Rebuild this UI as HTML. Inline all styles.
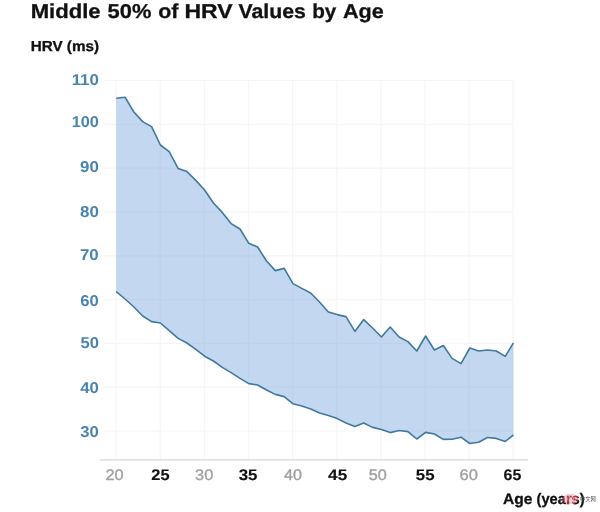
<!DOCTYPE html>
<html><head><meta charset="utf-8"><title>Middle 50% of HRV Values by Age</title>
<style>
html,body{margin:0;padding:0;background:#fff;}
body{width:600px;height:512px;position:relative;overflow:hidden;font-family:"Liberation Sans",sans-serif;color:#111;}
svg{position:absolute;left:0;top:0;}
.t{position:absolute;left:0;top:0;line-height:1;white-space:nowrap;transform-origin:0 0;display:block;text-rendering:geometricPrecision;}
.wm{position:absolute;left:562.5px;top:494.3px;height:10px;white-space:nowrap;}
.wm .p{position:absolute;left:0;top:0;width:15.8px;height:9.7px;border-radius:5px;background:rgba(235,120,135,.36);}
.wm .q{position:absolute;left:0;top:0;width:15.8px;height:9.7px;border-radius:5px;background:rgb(125,0,12);mix-blend-mode:screen;}
.wm .p i{position:absolute;left:0;top:0;width:15.8px;text-align:center;font-style:normal;color:rgba(255,255,255,.35);font-size:7px;line-height:9px;font-weight:bold;}
.wm .c{position:absolute;left:17.5px;top:2px;font-size:5.3px;line-height:6px;color:#555;font-family:"Liberation Sans","Noto Sans CJK SC",sans-serif;}
</style></head><body>
<svg width="600" height="512" viewBox="0 0 600 512">
<g stroke="#f5f5f5" stroke-width="1.2" fill="none"><line x1="104" x2="513.5" y1="80.5" y2="80.5"/><line x1="104" x2="513.5" y1="124.3" y2="124.3"/><line x1="104" x2="513.5" y1="168.1" y2="168.1"/><line x1="104" x2="513.5" y1="211.9" y2="211.9"/><line x1="104" x2="513.5" y1="255.8" y2="255.8"/><line x1="104" x2="513.5" y1="299.6" y2="299.6"/><line x1="104" x2="513.5" y1="343.4" y2="343.4"/><line x1="104" x2="513.5" y1="387.2" y2="387.2"/><line x1="104" x2="513.5" y1="431.0" y2="431.0"/><line x1="116.2" x2="116.2" y1="80" y2="459"/><line x1="160.3" x2="160.3" y1="80" y2="459"/><line x1="204.4" x2="204.4" y1="80" y2="459"/><line x1="248.5" x2="248.5" y1="80" y2="459"/><line x1="292.6" x2="292.6" y1="80" y2="459"/><line x1="336.8" x2="336.8" y1="80" y2="459"/><line x1="380.9" x2="380.9" y1="80" y2="459"/><line x1="425.0" x2="425.0" y1="80" y2="459"/><line x1="469.1" x2="469.1" y1="80" y2="459"/><line x1="513.2" x2="513.2" y1="80" y2="459"/></g>
<line x1="100" x2="528" y1="459.9" y2="459.9" stroke="#e1e1e1" stroke-width="1.6"/>
<polygon points="116.2,98.3 125.0,97.2 133.9,112.0 142.7,121.6 151.6,126.6 160.4,145.0 169.2,151.6 178.1,168.4 186.9,171.6 195.8,180.4 204.6,190.0 213.4,203.0 222.3,212.4 231.1,223.6 240.0,229.0 248.8,243.3 257.6,247.0 266.5,261.0 275.3,270.6 284.2,268.4 293.0,283.6 301.8,288.4 310.7,293.0 319.5,302.0 328.4,312.0 337.2,314.6 346.0,316.6 354.9,331.4 363.7,319.6 372.6,328.0 381.4,337.0 390.2,327.0 399.1,337.0 407.9,341.6 416.8,351.0 425.6,336.0 434.4,350.0 443.3,345.5 452.1,358.4 461.0,363.6 469.8,348.0 478.6,351.0 487.5,350.0 496.3,351.0 505.2,356.4 513.4,343.0 513.4,435.0 505.2,441.4 496.3,438.4 487.5,437.5 478.6,442.2 469.8,443.5 461.0,437.2 452.1,439.2 443.3,439.4 434.4,434.0 425.6,432.4 416.8,439.0 407.9,431.6 399.1,430.5 390.2,432.6 381.4,429.5 372.6,427.4 363.7,423.0 354.9,426.6 346.0,423.0 337.2,418.6 328.4,415.4 319.5,413.0 310.7,409.0 301.8,406.0 293.0,403.8 284.2,396.6 275.3,394.4 266.5,390.0 257.6,385.0 248.8,383.6 240.0,378.4 231.1,372.6 222.3,367.4 213.4,361.0 204.6,356.2 195.8,349.4 186.9,343.0 178.1,338.4 169.2,330.6 160.4,323.0 151.6,321.6 142.7,316.0 133.9,307.0 125.0,299.0 116.2,291.6" fill="#82aae2" fill-opacity="0.47" stroke="none"/>
<polyline points="116.2,98.3 125.0,97.2 133.9,112.0 142.7,121.6 151.6,126.6 160.4,145.0 169.2,151.6 178.1,168.4 186.9,171.6 195.8,180.4 204.6,190.0 213.4,203.0 222.3,212.4 231.1,223.6 240.0,229.0 248.8,243.3 257.6,247.0 266.5,261.0 275.3,270.6 284.2,268.4 293.0,283.6 301.8,288.4 310.7,293.0 319.5,302.0 328.4,312.0 337.2,314.6 346.0,316.6 354.9,331.4 363.7,319.6 372.6,328.0 381.4,337.0 390.2,327.0 399.1,337.0 407.9,341.6 416.8,351.0 425.6,336.0 434.4,350.0 443.3,345.5 452.1,358.4 461.0,363.6 469.8,348.0 478.6,351.0 487.5,350.0 496.3,351.0 505.2,356.4 513.4,343.0" fill="none" stroke="#3f7a9c" stroke-width="1.6" stroke-linejoin="round"/>
<polyline points="116.2,291.6 125.0,299.0 133.9,307.0 142.7,316.0 151.6,321.6 160.4,323.0 169.2,330.6 178.1,338.4 186.9,343.0 195.8,349.4 204.6,356.2 213.4,361.0 222.3,367.4 231.1,372.6 240.0,378.4 248.8,383.6 257.6,385.0 266.5,390.0 275.3,394.4 284.2,396.6 293.0,403.8 301.8,406.0 310.7,409.0 319.5,413.0 328.4,415.4 337.2,418.6 346.0,423.0 354.9,426.6 363.7,423.0 372.6,427.4 381.4,429.5 390.2,432.6 399.1,430.5 407.9,431.6 416.8,439.0 425.6,432.4 434.4,434.0 443.3,439.4 452.1,439.2 461.0,437.2 469.8,443.5 478.6,442.2 487.5,437.5 496.3,438.4 505.2,441.4 513.4,435.0" fill="none" stroke="#3f7a9c" stroke-width="1.6" stroke-linejoin="round"/>
</svg>
<span class="t" style="font-size:20px;font-weight:bold;color:#111;transform:translate(30.63px,2px) scaleX(1.1052);-webkit-text-stroke:0.3px #111;">Middle</span>
<span class="t" style="font-size:20px;font-weight:bold;color:#111;transform:translate(107.61px,2px) scaleX(1.0937);-webkit-text-stroke:0.3px #111;">50%</span>
<span class="t" style="font-size:20px;font-weight:bold;color:#111;transform:translate(158.22px,2px) scaleX(1.0695);-webkit-text-stroke:0.3px #111;">of</span>
<span class="t" style="font-size:20px;font-weight:bold;color:#111;transform:translate(184.46px,2px) scaleX(1.1494);-webkit-text-stroke:0.3px #111;">HRV</span>
<span class="t" style="font-size:20px;font-weight:bold;color:#111;transform:translate(238.54px,2px) scaleX(1.0623);-webkit-text-stroke:0.3px #111;">Values</span>
<span class="t" style="font-size:20px;font-weight:bold;color:#111;transform:translate(312.23px,2px) scaleX(1.0339);-webkit-text-stroke:0.3px #111;">by</span>
<span class="t" style="font-size:20px;font-weight:bold;color:#111;transform:translate(342.97px,2px) scaleX(1.0803);-webkit-text-stroke:0.3px #111;">Age</span>
<span class="t" style="font-size:14.5px;font-weight:bold;color:#111;transform:translate(30.74px,40px) scaleX(1.0494);-webkit-text-stroke:0.3px #111;">HRV (ms)</span>
<span class="t" style="font-size:15.2px;font-weight:bold;color:#111;transform:translate(502.97px,492px) scaleX(1.0265);-webkit-text-stroke:0.3px #111;">Age</span>
<span class="t" style="font-size:15.2px;font-weight:bold;color:#111;transform:translate(536.56px,492px) scaleX(0.9649);-webkit-text-stroke:0.3px #111;">(years)</span>
<span class="t" style="font-size:15.7px;font-weight:bold;color:#4884ae;transform:translate(71.68px,73px) scaleX(1.0740);">110</span>
<span class="t" style="font-size:15.7px;font-weight:bold;color:#4884ae;transform:translate(71.64px,115px) scaleX(1.0342);">100</span>
<span class="t" style="font-size:15.7px;font-weight:bold;color:#4884ae;transform:translate(80.08px,160px) scaleX(1.0753);">90</span>
<span class="t" style="font-size:15.7px;font-weight:bold;color:#4884ae;transform:translate(79.96px,205px) scaleX(1.0806);">80</span>
<span class="t" style="font-size:15.7px;font-weight:bold;color:#4884ae;transform:translate(79.98px,248px) scaleX(1.0761);">70</span>
<span class="t" style="font-size:15.7px;font-weight:bold;color:#4884ae;transform:translate(80.25px,294px) scaleX(1.0574);">60</span>
<span class="t" style="font-size:15.7px;font-weight:bold;color:#4884ae;transform:translate(80.44px,336px) scaleX(1.0548);">50</span>
<span class="t" style="font-size:15.7px;font-weight:bold;color:#4884ae;transform:translate(80.29px,381px) scaleX(1.0651);">40</span>
<span class="t" style="font-size:15.7px;font-weight:bold;color:#4884ae;transform:translate(80.34px,425px) scaleX(1.0620);">30</span>
<span class="t" style="font-size:15.3px;font-weight:normal;color:#a0a0a0;transform:translate(105.38px,468px) scaleX(1.0650);-webkit-text-stroke:0.35px #a0a0a0;">20</span>
<span class="t" style="font-size:15.3px;font-weight:bold;color:#111;transform:translate(151.26px,468px) scaleX(1.0744);-webkit-text-stroke:0.12px #111;">25</span>
<span class="t" style="font-size:15.3px;font-weight:normal;color:#a0a0a0;transform:translate(195.08px,468px) scaleX(1.0683);-webkit-text-stroke:0.35px #a0a0a0;">30</span>
<span class="t" style="font-size:15.3px;font-weight:bold;color:#111;transform:translate(238.64px,468px) scaleX(1.1037);-webkit-text-stroke:0.12px #111;">35</span>
<span class="t" style="font-size:15.3px;font-weight:normal;color:#a0a0a0;transform:translate(283.88px,468px) scaleX(1.0613);-webkit-text-stroke:0.35px #a0a0a0;">40</span>
<span class="t" style="font-size:15.3px;font-weight:bold;color:#111;transform:translate(328.12px,468px) scaleX(1.1204);-webkit-text-stroke:0.12px #111;">45</span>
<span class="t" style="font-size:15.3px;font-weight:normal;color:#a0a0a0;transform:translate(368.64px,468px) scaleX(1.0615);-webkit-text-stroke:0.35px #a0a0a0;">50</span>
<span class="t" style="font-size:15.3px;font-weight:bold;color:#111;transform:translate(415.78px,468px) scaleX(1.1009);-webkit-text-stroke:0.12px #111;">55</span>
<span class="t" style="font-size:15.3px;font-weight:normal;color:#a0a0a0;transform:translate(459.52px,468px) scaleX(1.0814);-webkit-text-stroke:0.35px #a0a0a0;">60</span>
<span class="t" style="font-size:15.3px;font-weight:bold;color:#111;transform:translate(503.59px,468px) scaleX(1.0430);-webkit-text-stroke:0.12px #111;">65</span>

<div class="wm"><span class="q"></span><span class="p"><i>php</i></span><span class="c">中文网</span></div>
</body></html>
